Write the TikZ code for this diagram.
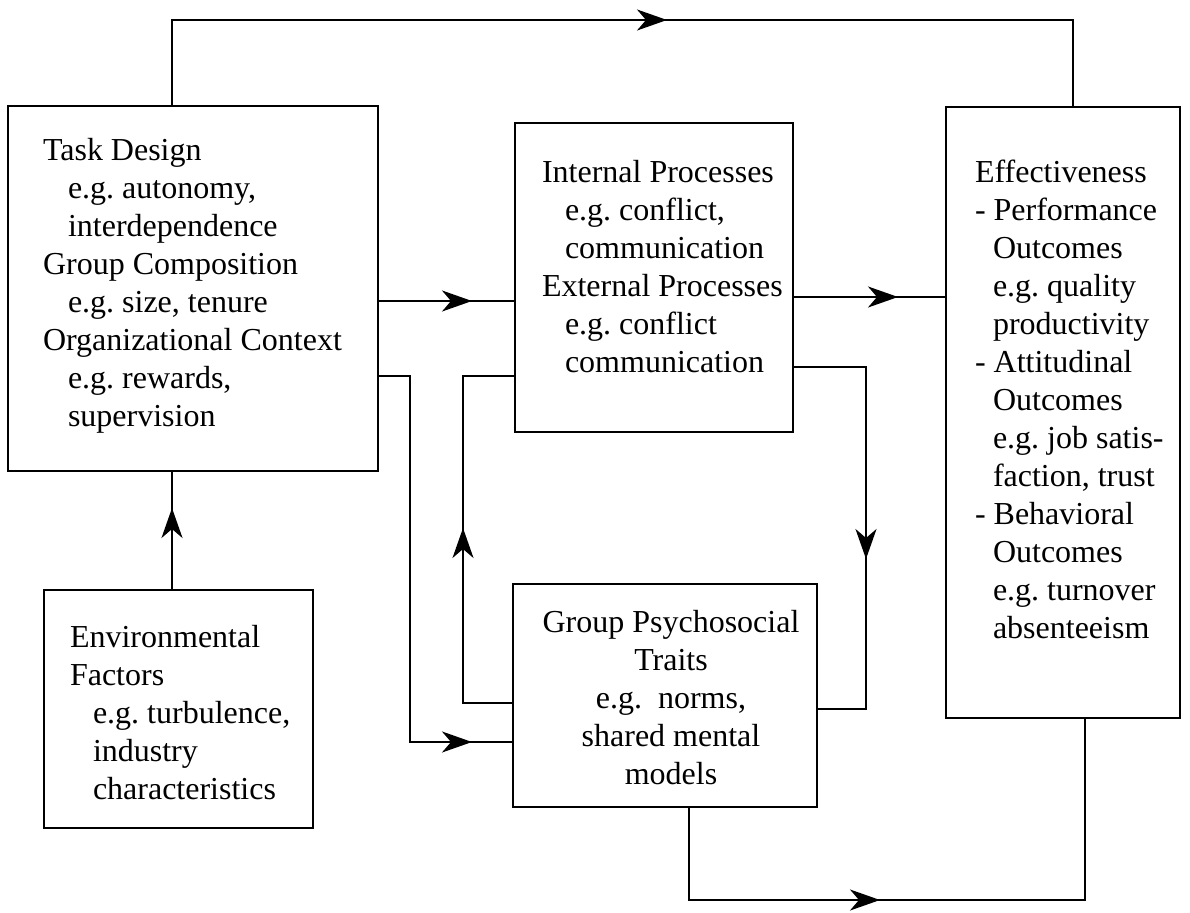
\documentclass[tikz,border=0pt]{standalone}
\usepackage{fontspec}
\setmainfont{Liberation Serif}
\usetikzlibrary{arrows.meta,decorations.markings}
\frenchspacing
\begin{document}
\begin{tikzpicture}[x=1pt,y=-1pt,line width=2pt,
  box/.style={draw,line width=2pt,inner sep=0pt,outer sep=0pt,rectangle},
  txt/.style={inner sep=0pt,outer sep=0pt,anchor=north west,align=left,font=\fontsize{32}{38}\selectfont},
  ctxt/.style={txt,anchor=north,align=center},
  arr/.style={postaction={decorate,decoration={markings,mark=at position #1 with {\arrow{Stealth[length=30pt,width=21pt,inset=9pt]}}}}}]
\useasboundingbox (0,0) rectangle (1190,912);

% boxes
\node[box,minimum width=370pt,minimum height=365pt] (A) at (193,288.5) {};
\node[box,minimum width=269pt,minimum height=238pt] (E) at (178.5,709) {};
\node[box,minimum width=278pt,minimum height=309pt] (I) at (654,277.5) {};
\node[box,minimum width=304pt,minimum height=223pt] (G) at (665,695.5) {};
\node[box,minimum width=234pt,minimum height=611pt] (R) at (1063,412.5) {};

% texts
\node[txt] (tA) at (43,134) {\rule{0pt}{26pt}Task Design\\
\hspace*{25pt}e.g. autonomy,\\
\hspace*{25pt}interdependence\\
Group Composition\\
\hspace*{25pt}e.g. size, tenure\\
Organizational Context\\
\hspace*{25pt}e.g. rewards,\\
\hspace*{25pt}supervision};

\node[txt] (tE) at (70,621) {\rule{0pt}{26pt}Environmental\\
Factors\\
\hspace*{23pt}e.g. turbulence,\\
\hspace*{23pt}industry\\
\hspace*{23pt}characteristics};

\node[txt] (tI) at (542,156) {\rule{0pt}{26pt}Internal Processes\\
\hspace*{23pt}e.g. conflict,\\
\hspace*{23pt}communication\\
External Processes\\
\hspace*{23pt}e.g. conflict\\
\hspace*{23pt}communication};

\node[ctxt] (tG) at (671,606) {\rule{0pt}{26pt}Group Psychosocial\\
Traits\\
e.g.\ \ norms,\\
shared mental\\
models};

\node[txt] (tR) at (975,156) {\rule{0pt}{26pt}Effectiveness\\
- Performance\\
\hspace*{18pt}Outcomes\\
\hspace*{18pt}e.g. quality\\
\hspace*{18pt}productivity\\
- Attitudinal\\
\hspace*{18pt}Outcomes\\
\hspace*{18pt}e.g. job satis-\\
\hspace*{18pt}faction, trust\\
- Behavioral\\
\hspace*{18pt}Outcomes\\
\hspace*{18pt}e.g. turnover\\
\hspace*{18pt}absenteeism};

% connector coordinates
\coordinate (t1) at (172,20);
\coordinate (t2) at (1073,20);
\coordinate (h1) at (0,301);
\coordinate (h2) at (0,297);
\coordinate (v1) at (410,376);
\coordinate (v1b) at (410,742);
\coordinate (v2) at (463,703);
\coordinate (v2t) at (463,376);
\coordinate (v3) at (866,367);
\coordinate (v3b) at (866,709);
\coordinate (b1) at (689,900);
\coordinate (b2) at (1085,900);
\coordinate (e1) at (172,0);

% connectors
\draw[arr=581pt] (A.north -| t1) -- (t1) -- (t2) -- (R.north -| t2);
\draw[arr=94pt] (A.east |- h1) -- (I.west |- h1);
\draw[arr=105pt] (I.east |- h2) -- (R.west |- h2);
\draw[arr=460pt] (A.east |- v1) -- (v1) -- (v1b) -- (G.west |- v1b);
\draw[arr=225pt] (G.west |- v2) -- (v2) -- (v2t) -- (I.west |- v2t);
\draw[arr=265pt] (I.east |- v3) -- (v3) -- (v3b) -- (G.east |- v3b);
\draw[arr=284pt] (G.south -| b1) -- (b1) -- (b2) -- (R.south -| b2);
\draw[arr=82pt] (E.north -| e1) -- (A.south -| e1);
\end{tikzpicture}
\end{document}
